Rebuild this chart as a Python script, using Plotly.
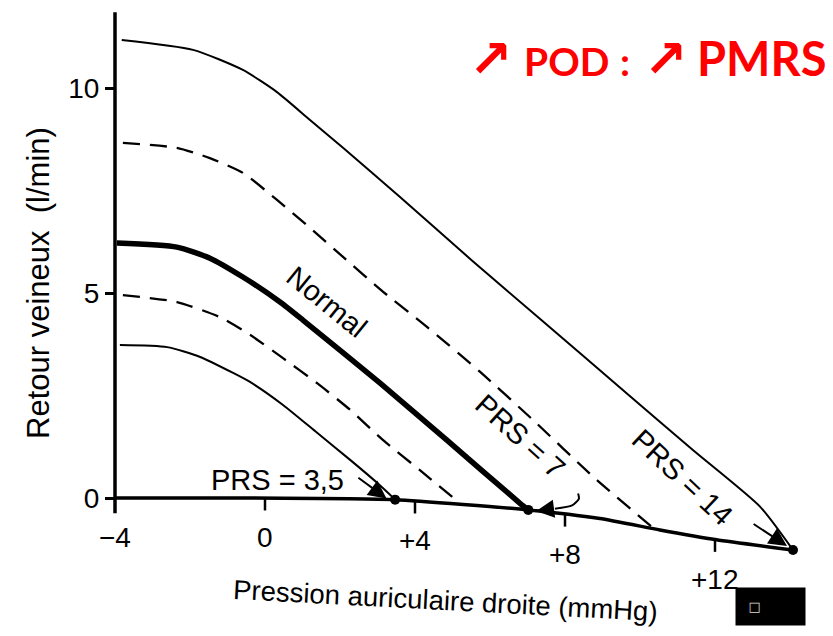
import numpy as np
import plotly.graph_objects as go

# ---------------- data ----------------
# tilted horizontal axis of the scan (Pression auriculaire droite, mmHg ; l/min)
axis_x = [-4.0, -0.4, 3.47, 7.02, 8.93, 10.53, 12.04, 14.08]
axis_y = [0.0, 0.0, -0.04, -0.29, -0.50, -0.78, -1.02, -1.27]
yaxis_extent = [-0.37, 11.85]

xtick_vals = [-4, 0, 4, 8, 12]
xtick_text = ["\u22124", "0", "+4", "+8", "+12"]
ytick_vals = [0, 5, 10]
ytick_text = ["0", "5", "10"]

# PRS = 14 (thin solid, top)
prs14_x = [-3.82, -1.92, -0.59, 0.32, 1.20, 2.08, 3.60, 5.51, 7.33, 9.65, 11.41, 13.20, 14.08]
prs14_y = [11.17, 10.93, 10.44, 9.90, 9.22, 8.54, 7.34, 5.80, 4.37, 2.55, 1.17, -0.21, -1.27]

# upper dashed curve
dash_hi_x = [-3.79, -2.35, -1.47, -0.59, 0.32, 1.20, 2.08, 3.15, 4.31, 5.73, 7.15, 8.75, 10.35]
dash_hi_y = [8.66, 8.54, 8.29, 7.93, 7.27, 6.59, 5.88, 5.03, 4.18, 3.08, 1.90, 0.52, -0.73]

# Normal, PRS = 7 (thick)
normal_x = [-3.95, -2.35, -1.47, -0.59, 0.40, 1.01, 3.07, 4.85, 6.80, 7.02]
normal_y = [6.22, 6.12, 5.85, 5.39, 4.78, 4.34, 2.80, 1.41, -0.13, -0.29]

# lower dashed curve
dash_lo_x = [-3.79, -2.35, -1.20, -0.40, 0.48, 1.39, 2.27, 3.15, 4.13, 5.25]
dash_lo_y = [4.95, 4.78, 4.41, 3.98, 3.41, 2.80, 2.15, 1.41, 0.68, -0.17]

# PRS = 3,5 (thin solid, bottom)
prs35_x = [-3.87, -2.61, -1.73, -0.85, -0.40, 0.48, 1.39, 2.27, 2.99, 3.47]
prs35_y = [3.73, 3.68, 3.44, 3.05, 2.83, 2.27, 1.59, 0.93, 0.37, -0.04]

# filled dots where the curves meet the axis (PRS values)
dot_x = [3.47, 7.02, 14.08]

# hooked arrow near PRS = 7
hook_x = [8.35, 8.37, 8.19, 7.73]
hook_y = [0.11, -0.02, -0.18, -0.26]

# ---------------- geometry of the page ----------------
W, H = 833, 636
X0_PX, PX_PER_X = 115, 37.5      # x = -4 sits at 115 px
Y0_PX, PX_PER_Y = 498, 41.0      # y = 0 sits at 498 px
x_range = [-4 - X0_PX / PX_PER_X, -4 + (W - X0_PX) / PX_PER_X]
y_range = [-(H - Y0_PX) / PX_PER_Y, Y0_PX / PX_PER_Y]

TXT = "Liberation Sans, Arial, Helvetica, sans-serif"

fig = go.Figure()

def line(x, y, width, dash="solid"):
    fig.add_trace(go.Scatter(x=x, y=y, mode="lines", hoverinfo="skip",
                             line=dict(color="black", width=width, dash=dash,
                                       shape="spline", smoothing=0.6)))

# axes drawn as in the scan
fig.add_trace(go.Scatter(x=axis_x, y=axis_y, mode="lines", hoverinfo="skip",
                         line=dict(color="black", width=3.5, shape="spline", smoothing=0.5)))
fig.add_trace(go.Scatter(x=[-4, -4], y=yaxis_extent, mode="lines", hoverinfo="skip",
                         line=dict(color="black", width=3.5)))
tx, ty = [], []
for t in xtick_vals[1:]:
    y0 = float(np.interp(t, axis_x, axis_y))
    tx += [t, t, None]
    ty += [y0, y0 - 0.3, None]
fig.add_trace(go.Scatter(x=tx, y=ty, mode="lines", hoverinfo="skip",
                         line=dict(color="black", width=2.5)))

# curves
line(prs14_x, prs14_y, 2)
line(dash_hi_x, dash_hi_y, 2.3, "17px,10px")
line(normal_x, normal_y, 5.5)
line(dash_lo_x, dash_lo_y, 2.3, "17px,10px")
line(prs35_x, prs35_y, 2)
line(hook_x, hook_y, 2)

dot_y = [float(np.interp(v, axis_x, axis_y)) for v in dot_x]
fig.add_trace(go.Scatter(x=dot_x, y=dot_y, mode="markers", hoverinfo="skip",
                         marker=dict(color="black", size=10)))

ann = []
# x tick labels along the tilted axis
for v, s in zip(xtick_vals, xtick_text):
    y0 = float(np.interp(v, axis_x, axis_y))
    ann.append(dict(x=v, y=y0 - 0.97, text=s, showarrow=False,
                    xanchor="center", yanchor="middle",
                    font=dict(family=TXT, size=28, color="black")))

# curve labels
def lab(x, y, s, ang=0):
    return dict(x=x, y=y, text=s, textangle=ang, showarrow=False,
                xanchor="center", yanchor="middle",
                font=dict(family=TXT, size=29, color="black"))

ann += [lab(1.65, 4.78, "Normal", 39), lab(6.8, 1.51, "PRS = 7", 42),
        lab(11.12, 0.51, "PRS = 14", 43), lab(0.32, 0.44, "PRS = 3,5")]

# arrows
for (hx, hy, tx_, ty_) in [(3.24, -0.01, 2.45, 0.52),
                           (13.92, -1.17, 12.99, -0.61),
                           (7.23, -0.32, 7.73, -0.26)]:
    ann.append(dict(x=hx, y=hy, ax=tx_, ay=ty_, xref="x", yref="y",
                    axref="x", ayref="y", text="", showarrow=True,
                    arrowhead=2, arrowsize=1.8, arrowwidth=2, arrowcolor="black"))

def pp(px_x, px_y):
    return px_x / W, 1 - px_y / H

# axis titles
x_, y_ = pp(38, 283)
ann.append(dict(x=x_, y=y_, xref="paper", yref="paper", xanchor="center",
                yanchor="middle", text="Retour veineux  (l/min)", textangle=-90,
                showarrow=False, font=dict(family=TXT, size=31, color="black")))
x_, y_ = pp(445, 600)
ann.append(dict(x=x_, y=y_, xref="paper", yref="paper", xanchor="center",
                yanchor="middle", text="Pression auriculaire droite (mmHg)",
                textangle=3, showarrow=False,
                font=dict(family=TXT, size=27.5, color="black")))

# red heading
RED_FONT = "Comic Sans MS, Lato, DejaVu Sans, sans-serif"
ARROW_FONT = "DejaVu Sans, sans-serif"
for px_x, px_y, s, fam, size in [(467, 59, "\u2197", ARROW_FONT, 52),
                                 (522, 61, "POD", RED_FONT, 39),
                                 (618, 61, ":", RED_FONT, 39),
                                 (642, 59, "\u2197", ARROW_FONT, 52),
                                 (695, 58, "PMRS", RED_FONT, 47)]:
    x_, y_ = pp(px_x, px_y)
    ann.append(dict(x=x_, y=y_, xref="paper", yref="paper", xanchor="left",
                    yanchor="middle", text="<b>" + s + "</b>", showarrow=False,
                    font=dict(family=fam, size=size, color="#ff0000")))

# black overlay box of the screenshot
x_, y_ = pp(735, 587)
ann.append(dict(x=x_, y=y_, xref="paper", yref="paper",
                xanchor="left", yanchor="top", width=69, height=37,
                bgcolor="black", borderpad=0, align="left",
                text="\u00a0\u00a0\u00a0\u25a1", showarrow=False,
                font=dict(family="DejaVu Sans", size=13, color="#dddddd")))

fig.update_layout(
    width=W, height=H, margin=dict(l=0, r=0, t=0, b=0),
    paper_bgcolor="white", plot_bgcolor="white", showlegend=False,
    annotations=ann,
    xaxis=dict(range=x_range, visible=False, fixedrange=True),
    yaxis=dict(range=y_range, anchor="free", position=X0_PX / W,
               showline=False, showgrid=False, zeroline=False,
               tickvals=ytick_vals, ticktext=ytick_text,
               ticks="outside", ticklen=10, tickwidth=3, tickcolor="black",
               tickfont=dict(family=TXT, size=28, color="black"),
               automargin=False, fixedrange=True),
)

fig.write_html("out.html", config={"displayModeBar": False},
               post_script="document.body.style.margin='0';")
